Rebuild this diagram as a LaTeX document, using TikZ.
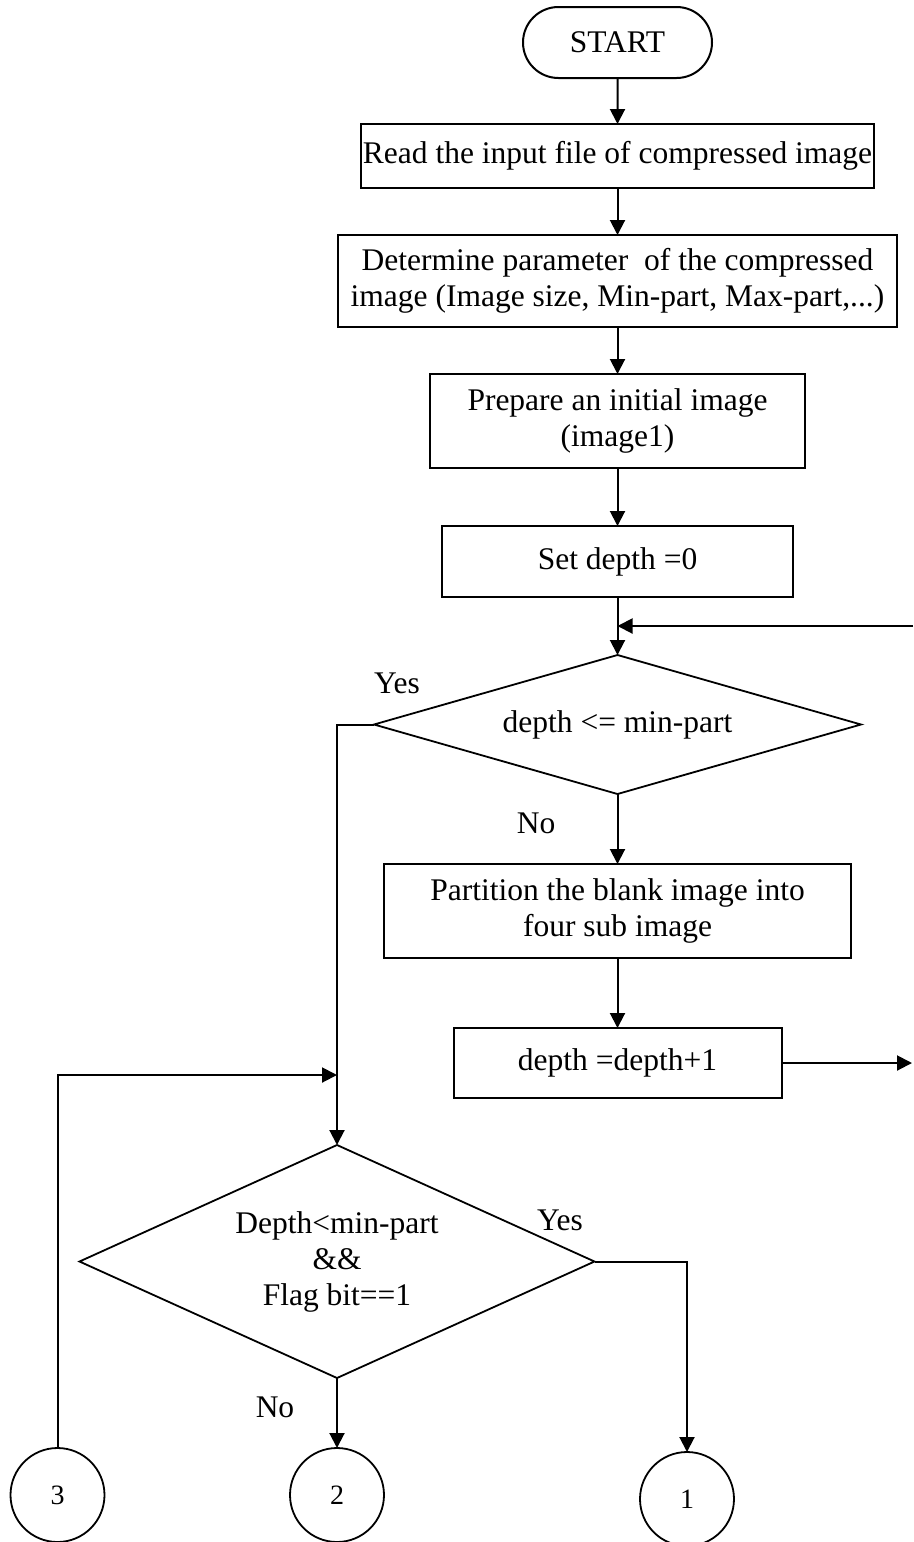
\documentclass[tikz,border=0pt]{standalone}
\usepackage{fontspec}
\setmainfont{Liberation Serif}
\usetikzlibrary{arrows.meta,shapes.geometric,shapes.misc}

\begin{document}
\begin{tikzpicture}[x=1pt,y=-1pt,
  every node/.style={font=\fontsize{31.5}{36}\selectfont, inner sep=0pt, outer sep=0pt},
  flowline/.style={line width=2pt},
  arr/.style={flowline, -{Triangle[length=15pt,width=15pt]}},
  procbox/.style={draw, line width=2pt, rectangle, align=center},
  terminal/.style={draw, line width=2pt, rounded rectangle, align=center},
  decision/.style={draw, line width=1.8pt, diamond, align=center},
  connector/.style={draw, line width=1.8pt, circle, minimum size=94pt,
                    font=\fontsize{28}{32}\selectfont},
  lbl/.style={anchor=center}
]
\useasboundingbox (0,0) rectangle (913,1542);

% main column
\node[terminal, minimum width=189pt, minimum height=71pt] (start) at (617.5,42.5) {START};
\node[procbox, minimum width=513pt, minimum height=64pt] (read) at (617.5,156) {Read the input file of compressed image};
\node[procbox, minimum width=559pt, minimum height=92pt] (param) at (617.5,281)
  {Determine parameter\ \ of the compressed\\image (Image size, Min-part, Max-part,...)};
\node[procbox, minimum width=375pt, minimum height=94pt] (prep) at (617.5,421) {Prepare an initial image\\(image1)};
\node[procbox, minimum width=351pt, minimum height=71pt] (setd) at (617.5,561.5) {Set depth =0};
\node[decision, aspect=3.5, minimum width=487pt, minimum height=139pt] (test1) at (617.5,724.5) {depth <= min-part};
\node[procbox, minimum width=467pt, minimum height=94pt] (part) at (617.5,911) {Partition the blank image into\\four sub image};
\node[procbox, minimum width=328pt, minimum height=70pt] (inc) at (617.5,1063) {depth =depth+1};

% second decision and off-page connectors
\node[decision, aspect=2.2, minimum width=515pt, minimum height=233pt] (test2) at (337,1261.5) {Depth<min-part\\\&\&\\Flag bit==1};
\node[connector] (c3) at (57.5,1495) {3};
\node[connector] (c2) at (337,1495) {2};
\node[connector] (c1) at (687,1499) {1};

% junction points
\coordinate (fbR) at (913,626);
\coordinate (fbJ) at (617.5,626);
\coordinate (yesL) at (337,724.5);
\coordinate (loopJ) at (337,1075);
\coordinate (loopL) at (57.5,1075);
\coordinate (incR) at (912,1063);
\coordinate (yesR) at (687,1261.5);

% straight flow
\draw[arr] (start) -- (read);
\draw[arr] (read) -- (param);
\draw[arr] (param) -- (prep);
\draw[arr] (prep) -- (setd);
\draw[arr] (setd) -- (test1);
\draw[arr] (fbR) -- (fbJ);
\draw[arr] (test1) -- (part);
\draw[arr] (part) -- (inc);
\draw[arr] (inc) -- (incR);

% yes branch of the first test
\draw[arr] (test1.west) -- (yesL) -- (test2.north);
\draw[arr] (c3.north) -- (loopL) -- (loopJ);

% branches of the second test
\draw[arr] (test2.east) -- (yesR) -- (c1.north);
\draw[arr] (test2.south) -- (c2.north);

% branch labels
\node[lbl] (yes1) at (397,683) {Yes};
\node[lbl] (no1) at (536,823) {No};
\node[lbl] (yes2) at (560,1220) {Yes};
\node[lbl] (no2) at (275,1407) {No};
\end{tikzpicture}
\end{document}
